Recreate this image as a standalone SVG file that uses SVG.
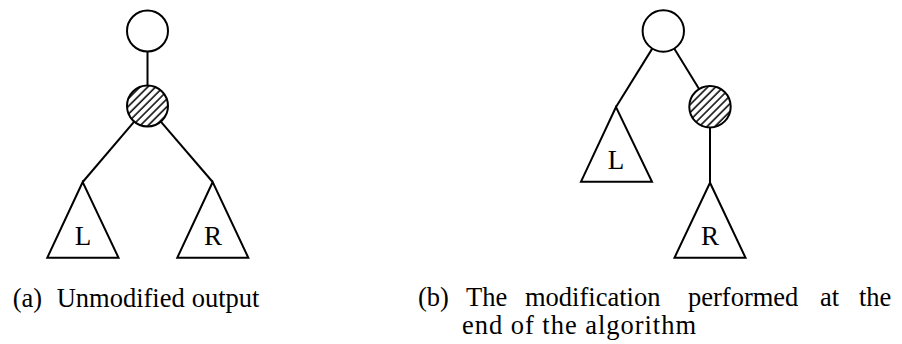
<svg xmlns="http://www.w3.org/2000/svg" width="902" height="344" viewBox="0 0 902 344">
<style>
.n{fill:#fff;stroke:#000;stroke-width:2}
.h{fill:url(#hatch);stroke:#000;stroke-width:2}
.t{fill:#fff;stroke:#000;stroke-width:2;stroke-linejoin:miter}
.e{stroke:#000;stroke-width:2;fill:none}
.lbl{font-family:"Liberation Serif","Times New Roman",serif;font-size:27px;fill:#000;text-anchor:middle}
.cap{font-family:"Liberation Serif","Times New Roman",serif;font-size:26.5px;fill:#000}
</style>
<defs>
<pattern id="hatch" patternUnits="userSpaceOnUse" width="5.5" height="5.5" patternTransform="rotate(45)">
<rect width="5.5" height="5.5" fill="#fff"/>
<line x1="1" y1="0" x2="1" y2="5.5" stroke="#000" stroke-width="1.5"/>
</pattern>
</defs>
<g id="connectors">
<line class="e" x1="147.5" y1="51.5" x2="147.5" y2="85.5"/>
<line class="e" x1="134.2" y1="121.6" x2="82.7" y2="182"/>
<line class="e" x1="160.8" y1="121.6" x2="212.7" y2="182"/>
<line class="e" x1="652.4" y1="48.4" x2="616" y2="107"/>
<line class="e" x1="674.2" y1="48.6" x2="699.1" y2="89.1"/>
<line class="e" x1="710" y1="127.4" x2="710" y2="182.7"/>
</g>
<g id="a-root"><circle class="n" cx="147.5" cy="31" r="20.5"/></g>
<g id="a-hatched"><circle class="h" cx="147.5" cy="106" r="20.5"/></g>
<g id="a-L"><polygon class="t" points="82.7,182 47.3,257.7 118.5,257.7"/><text class="lbl" x="83" y="245">L</text></g>
<g id="a-R"><polygon class="t" points="212.7,182 177.3,257.7 248.3,257.7"/><text class="lbl" x="213" y="245">R</text></g>
<g id="b-root"><circle class="n" cx="663.3" cy="31" r="20.7"/></g>
<g id="b-hatched"><circle class="h" cx="710" cy="106.7" r="20.7"/></g>
<g id="b-L"><polygon class="t" points="616,107 581,181.7 652,181.7"/><text class="lbl" x="616" y="168.5">L</text></g>
<g id="b-R"><polygon class="t" points="710,182.7 674.5,257.7 745.5,257.7"/><text class="lbl" x="710" y="245">R</text></g>
<text class="cap" y="306.5"><tspan x="12.7">(a)</tspan> <tspan x="56.7">Unmodified</tspan> <tspan x="191.7">output</tspan></text>
<text class="cap" y="306"><tspan x="418">(b)</tspan> <tspan x="466">The</tspan> <tspan x="525">modification</tspan> <tspan x="688">performed</tspan> <tspan x="820">at</tspan> <tspan x="859">the</tspan></text>
<text class="cap" x="462" y="333.5" textLength="234" lengthAdjust="spacing">end of the algorithm</text>
</svg>
